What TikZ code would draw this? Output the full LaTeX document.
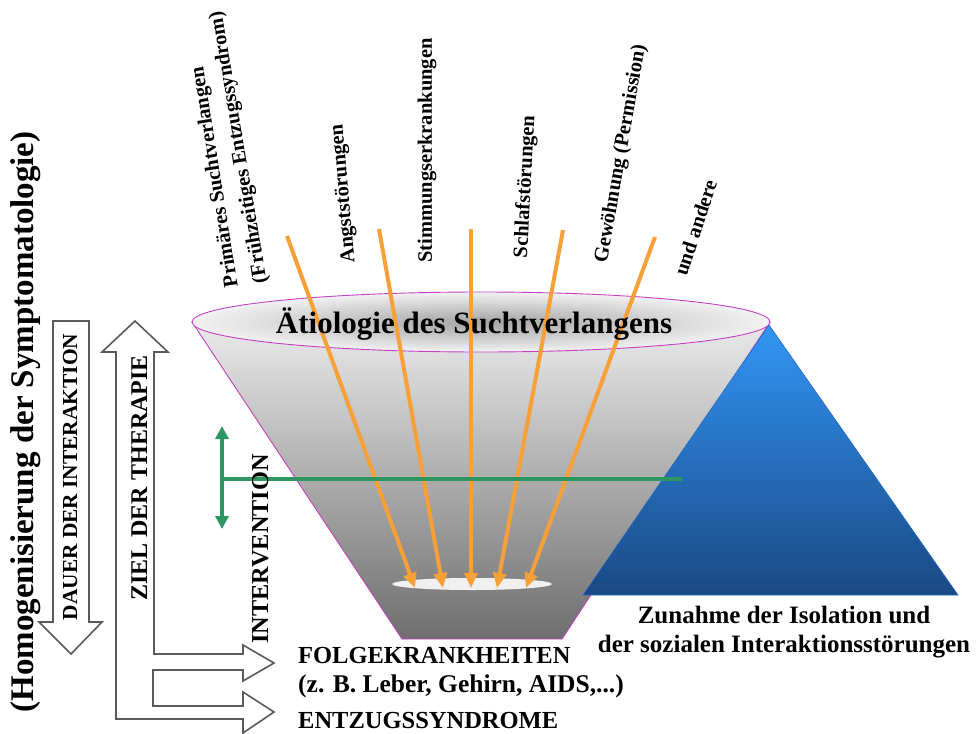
\documentclass[tikz,border=0pt]{standalone}
\usepackage{fontspec}
\setmainfont{Liberation Serif}
\usetikzlibrary{arrows.meta}
\definecolor{orangeA}{RGB}{247,160,56}
\definecolor{greenA}{RGB}{46,150,98}
\definecolor{magentaA}{RGB}{196,64,196}
\definecolor{blueTop}{RGB}{50,150,245}
\definecolor{blueMid}{RGB}{36,104,190}
\definecolor{blueBot}{RGB}{26,72,132}
\definecolor{arrowgray}{RGB}{90,90,90}
\newcommand{\myfs}[1]{\fontsize{#1}{#1}\selectfont\bfseries}
\tikzset{
  toplabel/.style={font=\myfs{20.5}, anchor=west},
  raylabel/.style={orangeA, line width=4pt, -{Triangle[length=15pt,width=13pt]}},
  greenline/.style={greenA, line width=4pt},
  whitearrow/.style={draw=arrowgray, line width=1.6pt, fill=white, line join=miter},
  capline/.style={anchor=base west, font=\myfs{24.5}},
}
\begin{document}
\begin{tikzpicture}[x=1pt,y=-1pt, every node/.style={inner sep=0pt, text=black}]
\useasboundingbox (0,0) rectangle (978,734);

% cone
\path[draw=magentaA, line width=0.9pt, top color=black!8, middle color=black!24, bottom color=black!57]
  (192,322) -- (402,639) -- (562,639) -- (770,322) -- cycle;
% top ellipse
\path[draw=magentaA, line width=0.9pt, inner color=black!36, outer color=black!5]
  (481,322) ellipse [x radius=289pt, y radius=30pt];
% bottom opening
\fill[black!6] (472,584) ellipse [x radius=80pt, y radius=6pt];

% blue triangle
\path[draw=blueMid, line width=0.6pt, top color=blueTop, bottom color=blueBot]
  (769,325) -- (958,595) -- (583,595) -- cycle;

% orange rays
\coordinate (s1) at (287,236); \coordinate (t1) at (415,588);
\coordinate (s2) at (379,229); \coordinate (t2) at (443,588);
\coordinate (s3) at (471,229); \coordinate (t3) at (471,588);
\coordinate (s4) at (563,230); \coordinate (t4) at (497,588);
\coordinate (s5) at (655,237); \coordinate (t5) at (526,588);
\foreach \i in {1,...,5} { \draw[raylabel] (s\i) -- (t\i); }

% title
\node[anchor=base, font=\myfs{31}] (title) at (474,333) {Ätiologie des Suchtverlangens};

% green intervention
\coordinate (gU) at (222,426);
\coordinate (gD) at (222,529);
\coordinate (gM) at (222,479);
\coordinate (gE) at (682,479);
\draw[greenline, {Triangle[length=13pt,width=13pt]}-{Triangle[length=13pt,width=13pt]}] (gU) -- (gD);
\draw[greenline] (gM) -- (gE);

% white arrows
\path[whitearrow] (53,321) -- (89,321) -- (89,622) -- (102,622) -- (71,654) -- (39,622) -- (53,622) -- cycle;
\path[whitearrow] (135,321) -- (168,352) -- (154,352) -- (154,654) -- (243,654) -- (243,645) -- (274,663)
  -- (243,681) -- (243,670) -- (153,670) -- (153,706) -- (243,706) -- (243,692) -- (274,712)
  -- (243,733) -- (243,719) -- (116,719) -- (116,352) -- (102,352) -- cycle;

% rotated left labels
\node[rotate=90, anchor=base, font=\myfs{33}] (homog) at (33,422) {(Homogenisierung der Symptomatologie)};
\node[rotate=90, anchor=base, font=\myfs{21.4}] (dauer) at (77,477) {DAUER DER INTERAKTION};
\node[rotate=90, anchor=base, font=\myfs{24}] (ziel) at (147,478) {ZIEL DER THERAPIE};
\node[rotate=90, anchor=base, font=\myfs{24.3}] (interv) at (268,549) {INTERVENTION};

% top labels
\node[toplabel, rotate=99] (l1a) at (233,287) {Primäres Suchtverlangen};
\node[toplabel, rotate=99.5] (l1b) at (262,283) {(Frühzeitiges Entzugssyndrom)};
\node[toplabel, rotate=95] (l2) at (350,263) {Angststörungen};
\node[toplabel, rotate=90] (l3) at (427,263) {Stimmungserkrankungen};
\node[toplabel, rotate=87] (l4) at (522,258) {Schlafstörungen};
\node[toplabel, rotate=80] (l5) at (602,263) {Gewöhnung (Permission)};
\node[toplabel, rotate=72] (l6) at (680,275) {und andere};

% bottom texts
\node[capline] (folge) at (298,663) {FOLGEKRANKHEITEN};
\node[anchor=base west, font=\myfs{25.5}] (bsp) at (298,692) {(z. B. Leber, Gehirn, AIDS,...)};
\node[capline] (entz) at (298,728) {ENTZUGSSYNDROME};

\node[anchor=base, font=\myfs{25}] (iso1) at (784,623) {Zunahme der Isolation und};
\node[anchor=base, font=\myfs{25}] (iso2) at (784,652) {der sozialen Interaktionsstörungen};
\end{tikzpicture}
\end{document}
